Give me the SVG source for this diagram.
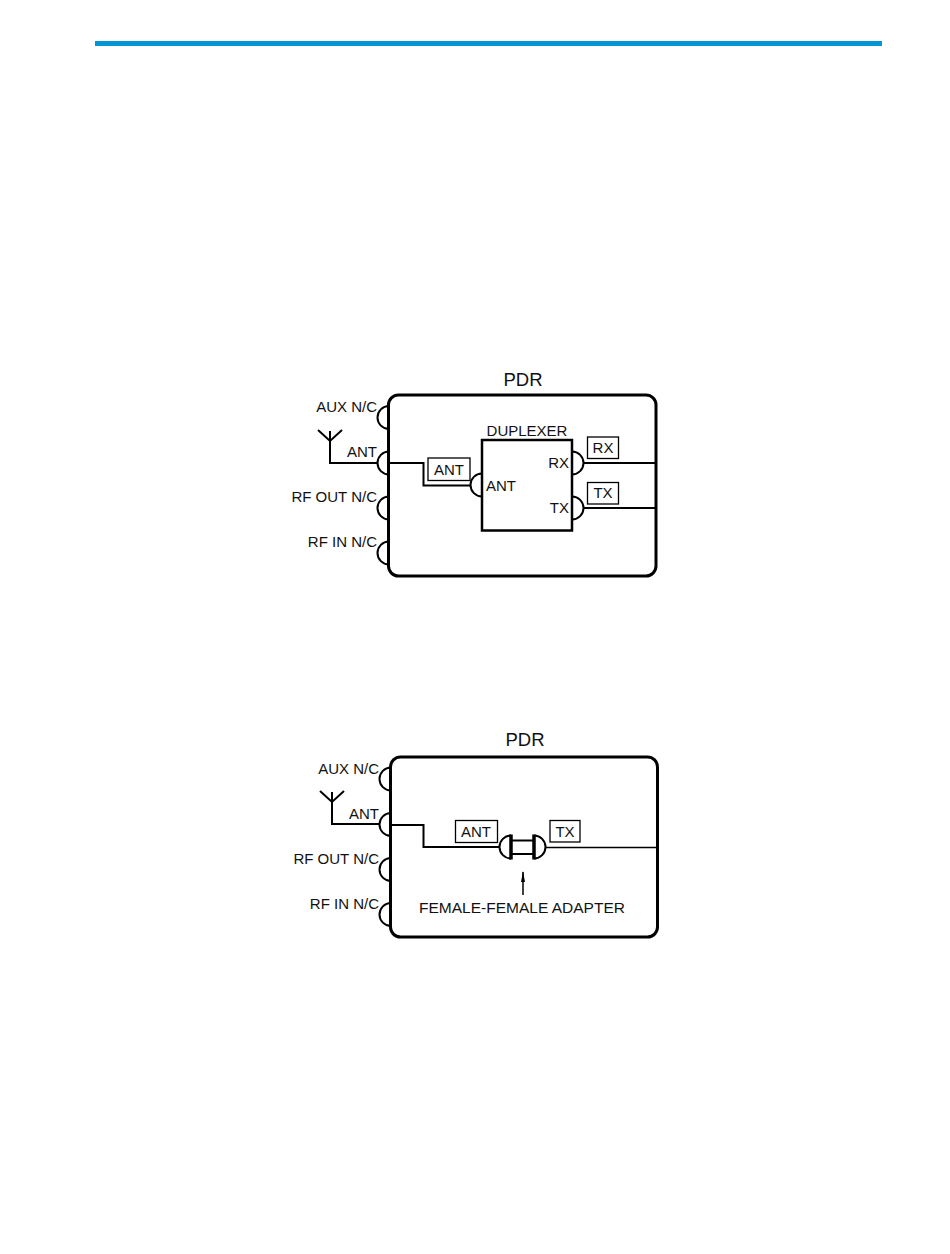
<svg xmlns="http://www.w3.org/2000/svg" width="950" height="1254" viewBox="0 0 950 1254">
<style>
text{font-family:"Liberation Sans",Arial,sans-serif;font-size:15px;fill:#111}
.t{font-size:18.5px}
.r{text-anchor:end}
.m{text-anchor:middle}
.b{fill:#fff;stroke:#000;stroke-width:3}
.l{fill:none;stroke:#000;stroke-width:2}
.tag{fill:#fff;stroke:#000;stroke-width:1.3}
</style>
<defs>
<path id="jl" d="M0,-11.5A11.5,11.5 0 0 0 0,11.5" class="l"/>
<path id="jr" d="M0,-11.5A11.5,11.5 0 0 1 0,11.5" class="l"/>
<g id="ant"><path d="M318,430L330,441L342,430M330,431V463H378" class="l"/></g>
</defs>
<rect id="header-bar" x="95" y="41" width="787" height="5" fill="#0096d6"/>
<g id="pdr-top">
<rect class="b" x="388.500" y="395" width="267.500" height="181" rx="10"/>
<text class="t m" x="523" y="386">PDR</text>
</g>
<g id="ports-top">
<use href="#jl" x="389" y="417.500"/><use href="#jl" x="389" y="463"/><use href="#jl" x="389" y="508"/><use href="#jl" x="389" y="553"/>
<text class="r" x="377" y="412">AUX N/C</text><text class="r" x="377" y="457">ANT</text><text class="r" x="377" y="502">RF OUT N/C</text><text class="r" x="377" y="547">RF IN N/C</text>
</g>
<g id="antenna-top"><use href="#ant"/></g>
<g id="duplexer">
<rect x="482" y="440" width="90" height="90.500" fill="#fff" stroke="#000" stroke-width="2.500"/>
<text class="m" x="527" y="436">DUPLEXER</text>
<use href="#jl" x="482" y="485"/><use href="#jr" x="572" y="463"/><use href="#jr" x="572" y="508"/>
<text x="486" y="491">ANT</text><text class="r" x="569" y="468">RX</text><text class="r" x="569" y="513">TX</text>
</g>
<g id="connectors-top">
<path class="l" d="M389,463H423.500V485.500H471"/>
<path class="l" d="M583,463H657M583,508H657"/>
</g>
<g id="tag-ant-top"><rect class="tag" x="428" y="458" width="42" height="22.500"/><text class="m" x="449" y="475">ANT</text></g>
<g id="tag-rx"><rect class="tag" x="587.500" y="437" width="31" height="21.500"/><text class="m" x="603" y="453">RX</text></g>
<g id="tag-tx-top"><rect class="tag" x="587.500" y="482.500" width="31" height="21.500"/><text class="m" x="603" y="498">TX</text></g>

<g id="pdr-bottom">
<rect class="b" x="390.500" y="757" width="267" height="180" rx="10"/>
<text class="t m" x="525" y="746">PDR</text>
</g>
<g id="ports-bottom">
<use href="#jl" x="391" y="779"/><use href="#jl" x="391" y="824.500"/><use href="#jl" x="391" y="869.500"/><use href="#jl" x="391" y="914.500"/>
<text class="r" x="379" y="774">AUX N/C</text><text class="r" x="379" y="819">ANT</text><text class="r" x="379" y="864">RF OUT N/C</text><text class="r" x="379" y="909">RF IN N/C</text>
</g>
<g id="antenna-bottom"><use href="#ant" x="2" y="361"/></g>
<g id="connectors-bottom">
<path class="l" d="M391,825H423.500V847H500"/>
<path class="l" d="M545,847.500H657" style="stroke-width:1.500"/>
<path d="M523,872V895" stroke="#000" stroke-width="1.500"/>
<path d="M523,871L525,882H521Z" fill="#000"/>
</g>
<g id="adapter">
<path class="l" d="M511,835.500A11.500,11.500 0 0 0 511,858.500"/>
<path class="l" d="M534,835.500A11.500,11.500 0 0 1 534,858.500"/>
<path d="M511,834.500V859.500M534,834.500V859.500" stroke="#000" stroke-width="3.500" fill="none"/>
<path d="M511,840.500H534M511,854H534" stroke="#000" stroke-width="2" fill="none"/>
</g>
<g id="tag-ant-bottom"><rect class="tag" x="455.500" y="820.500" width="42" height="22"/><text class="m" x="476" y="837">ANT</text></g>
<g id="tag-tx-bottom"><rect class="tag" x="550" y="820.500" width="30" height="21.500"/><text class="m" x="565" y="837">TX</text></g>
<text id="adapter-label" class="m" x="522" y="913" style="font-size:15.500px">FEMALE-FEMALE ADAPTER</text>
</svg>
